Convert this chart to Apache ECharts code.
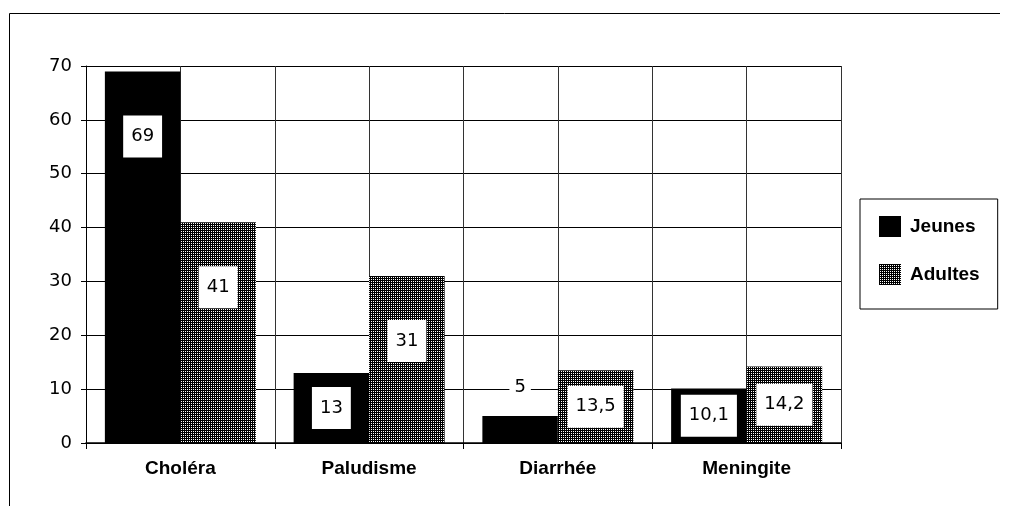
<!DOCTYPE html>
<html><head><meta charset="utf-8">
<script src="https://cdn.jsdelivr.net/npm/echarts@6/dist/echarts.min.js"></script>
<style>html,body{margin:0;padding:0;background:#fff}#c{width:1020px;height:506px}</style>
</head><body><div id="c"></div>
<script>
const categories = ['Choléra', 'Paludisme', 'Diarrhée', 'Meningite'];
const seriesNames = ['Jeunes', 'Adultes'];
const jeunes = [69, 13, 5, 10.1];
const adultes = [41, 31, 13.5, 14.2];
const yMin = 0, yMax = 70, yStep = 10;

function makePattern() {
  const c = document.createElement('canvas');
  c.width = 4; c.height = 4;
  const g = c.getContext('2d');
  g.fillStyle = '#000'; g.fillRect(0, 0, 4, 4);
  g.fillStyle = '#fff';
  g.fillRect(1, 1, 1, 1); g.fillRect(3, 3, 1, 1);
  g.fillRect(3, 1, 1, 1); g.fillRect(1, 3, 1, 1);
  return c;
}
const pattern = { image: makePattern(), repeat: 'repeat' };

const FONT = 'Liberation Sans, Arial, sans-serif';
const NUMFONT = 'DejaVu Sans, sans-serif';
function fmt(v) { return String(v).replace('.', ','); }
function labelFor(v) {
  const base = { show: true, formatter: p => fmt(p.value), color: '#000', fontFamily: NUMFONT, fontSize: 18,
    backgroundColor: '#fff', padding: [12, 8], lineHeight: 18 };
  if (v >= 20) return Object.assign(base, { position: 'insideTop', distance: 44 });
  if (v >= 8) return Object.assign(base, { position: 'inside' });
  return Object.assign(base, { position: 'top', distance: 18, padding: [2, 5] });
}
function items(arr) { return arr.map(v => ({ value: v, label: labelFor(v) })); }

const chart = echarts.init(document.getElementById('c'), null, { renderer: 'canvas' });
chart.setOption({
  animation: false,
  backgroundColor: '#fff',
  grid: { left: 86, right: 179, top: 66, bottom: 63, containLabel: false },
  legend: {
    orient: 'vertical', left: 860, top: 199,
    padding: [17, 18, 24, 19], itemGap: 27, itemWidth: 22, itemHeight: 21,
    borderColor: '#000', borderWidth: 1,
    textStyle: { fontFamily: FONT, fontSize: 19, fontWeight: 'bold', color: '#000', padding: [0, 0, 0, 4] },
    data: seriesNames.map(n => ({ name: n, icon: 'rect' }))
  },
  xAxis: [{
    type: 'category', data: categories, boundaryGap: true,
    axisLine: { lineStyle: { color: '#000', width: 1.5 } },
    axisTick: { show: true, length: 6, lineStyle: { color: '#000' } },
    axisLabel: { color: '#000', fontFamily: FONT, fontSize: 19, fontWeight: 'bold', margin: 16 },
    splitLine: { show: true, lineStyle: { color: '#000', width: 1 } }
  }, {
    type: 'value', min: 0, max: 8, interval: 1, position: 'top',
    axisLine: { show: false }, axisTick: { show: false }, axisLabel: { show: false },
    splitLine: { show: true, lineStyle: { color: '#333', width: 1 } }
  }],
  yAxis: {
    type: 'value', min: yMin, max: yMax, interval: yStep,
    axisLine: { show: true, lineStyle: { color: '#000', width: 1 } },
    axisTick: { show: true, length: 5, lineStyle: { color: '#000' } },
    axisLabel: { color: '#000', fontFamily: NUMFONT, fontSize: 18, margin: 14 },
    splitLine: { show: true, lineStyle: { color: '#000', width: 1 } }
  },
  graphic: [{
    type: 'polyline', silent: true,
    shape: { points: [[1000, 13.5], [9.5, 13.5], [9.5, 506]] },
    style: { stroke: '#000', lineWidth: 1, fill: null }
  }],
  series: [{
    name: seriesNames[0], type: 'bar', xAxisIndex: 0, data: items(jeunes),
    itemStyle: { color: '#000' }, barGap: '0%', barCategoryGap: '20%'
  }, {
    name: seriesNames[1], type: 'bar', xAxisIndex: 0, data: items(adultes),
    itemStyle: { color: pattern }, barGap: '0%', barCategoryGap: '20%'
  }]
});
</script></body></html>
